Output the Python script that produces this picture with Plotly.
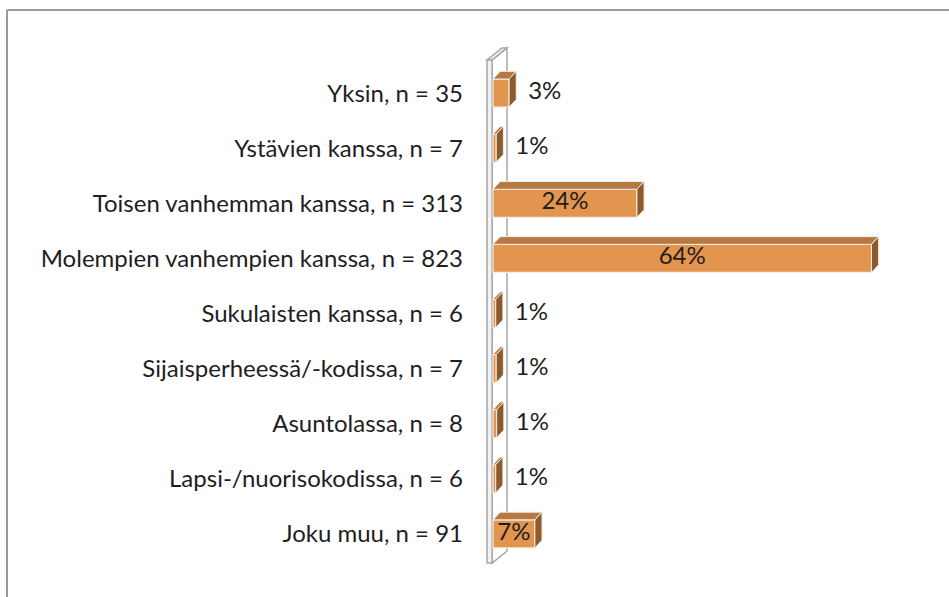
import plotly.graph_objects as go

# who the respondent lives with
categories = [
    "Yksin",
    "Ystävien kanssa",
    "Toisen vanhemman kanssa",
    "Molempien vanhempien kanssa",
    "Sukulaisten kanssa",
    "Sijaisperheessä/-kodissa",
    "Asuntolassa",
    "Lapsi-/nuorisokodissa",
    "Joku muu",
]
counts = [35, 7, 313, 823, 6, 7, 8, 6, 91]
pct_labels = ["3%", "1%", "24%", "64%", "1%", "1%", "1%", "1%", "7%"]

total = sum(counts)
shares = [n / total * 100 for n in counts]
tick_text = [f"{c}, n = {n}" for c, n in zip(categories, counts)]
pos = list(range(len(categories)))

FRONT = "#E3944F"
TOP = "#B57A43"
SIDE = "#8C5A2C"
EDGE = "#F7ECE2"
TEXT = "#1E1E1E"
FONT = "Lato, 'Open Sans', sans-serif"

DX = 1.2    # bar depth, x units (%)
DY = 0.14   # bar depth, category units
H = 0.51    # bar thickness

# plot area in pixels, used for the outer frame
W, HGT = 949, 597
L, R, T, B = 470, 9, 38, 8
X0, PX = 493, 5.96  # pixel of 0 % and pixels per %

fig = go.Figure()

fig.add_trace(go.Bar(
    x=shares,
    y=pos,
    orientation="h",
    width=H,
    marker=dict(color=FRONT, line=dict(color=EDGE, width=1.2)),
    hoverinfo="skip",
))

top_x, top_y, side_x, side_y = [], [], [], []
for v, p in zip(shares, pos):
    yt, yb = p - H / 2, p + H / 2
    top_x += [0, v, v + DX, DX, 0, None]
    top_y += [yt, yt, yt - DY, yt - DY, yt, None]
    side_x += [v, v + DX, v + DX, v, v, None]
    side_y += [yt, yt - DY, yb - DY, yb, yt, None]

fig.add_trace(go.Scatter(
    x=top_x, y=top_y, mode="lines", fill="toself", fillcolor=TOP,
    line=dict(color=EDGE, width=1), hoverinfo="skip",
))
fig.add_trace(go.Scatter(
    x=side_x, y=side_y, mode="lines", fill="toself", fillcolor=SIDE,
    line=dict(color=EDGE, width=1), hoverinfo="skip",
))

# data labels: inside for the long bars, outside for the short ones
lab_x, lab_pos = [], []
for v in shares:
    if v > 5:
        lab_x.append(v / 2)
        lab_pos.append("middle center")
    else:
        lab_x.append(v + DX + 2.0)
        lab_pos.append("middle right")

fig.add_trace(go.Scatter(
    x=lab_x, y=pos, mode="text", text=pct_labels, textposition=lab_pos,
    textfont=dict(family=FONT, size=24, color=TEXT), hoverinfo="skip",
))

# 3D wall behind the bars
x0, x1, xw, yw = -1.0, -0.15, 2.5, 0.22
yt, yb = -0.6, 8.53
wall = dict(type="path", xref="x", yref="y", layer="below",
            line=dict(color="#A6A6A6", width=1.5))
fig.add_shape(**wall, fillcolor="#FFFFFF",
              path=f"M {x1},{yt} L {x1 + xw},{yt - yw} L {x1 + xw},{yb - yw} L {x1},{yb} Z")
fig.add_shape(**wall, fillcolor="#F2F2F2",
              path=f"M {x0},{yt} L {x1},{yt} L {x1 + xw},{yt - yw} L {x0 + xw},{yt - yw} Z")
fig.add_shape(**wall, fillcolor="#F2F2F2",
              path=f"M {x0},{yb} L {x1},{yb} L {x1},{yt} L {x0},{yt} Z")

# outer frame (top and left edges only)
pw, ph = W - L - R, HGT - T - B
fx = (7 - L) / pw
fy = (HGT - B - 10) / ph
frame = dict(type="line", xref="paper", yref="paper", line=dict(color="#9A9A9A", width=2))
fig.add_shape(**frame, x0=fx, x1=(W - L) / pw, y0=fy, y1=fy)
fig.add_shape(**frame, x0=fx, x1=fx, y0=fy, y1=-B / ph - 0.01)

fig.update_layout(
    width=W,
    height=HGT,
    margin=dict(l=L, r=R, t=T, b=B),
    showlegend=False,
    plot_bgcolor="white",
    paper_bgcolor="white",
    font=dict(family=FONT, size=24, color=TEXT),
)
fig.update_xaxes(visible=False, range=[(L - X0) / PX, (W - R - X0) / PX])
fig.update_yaxes(
    range=[9.0, -1.0],
    tickmode="array",
    tickvals=pos,
    ticktext=tick_text,
    showgrid=False,
    zeroline=False,
    showline=False,
    ticks="",
    ticklabelstandoff=6,
)

fig.write_html(
    "out.html",
    config={"displayModeBar": False},
    post_script="document.body.style.margin = '0';",
)
